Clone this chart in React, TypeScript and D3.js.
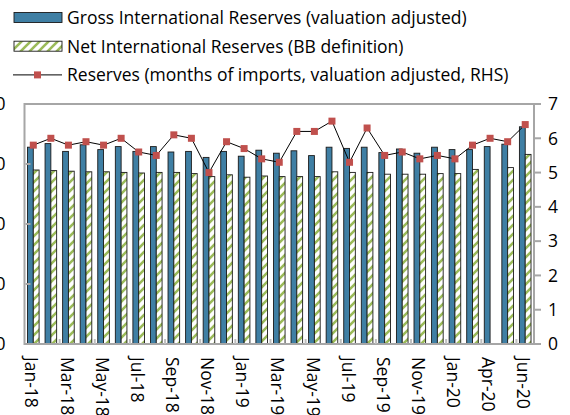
import { useEffect, useRef } from 'react'
import * as d3 from 'd3'

const months = [
  'Jan-18', 'Feb-18', 'Mar-18', 'Apr-18', 'May-18', 'Jun-18', 'Jul-18', 'Aug-18', 'Sep-18', 'Oct-18',
  'Nov-18', 'Dec-18', 'Jan-19', 'Feb-19', 'Mar-19', 'Apr-19', 'May-19', 'Jun-19', 'Jul-19', 'Aug-19',
  'Sep-19', 'Oct-19', 'Nov-19', 'Dec-19', 'Jan-20', 'Feb-20', 'Apr-20', 'May-20', 'Jun-20',
]
const gross = [
  32.8, 33.4, 32.1, 33.2, 32.4, 32.9, 32.1, 32.9, 32.0, 32.1,
  31.1, 32.1, 31.3, 32.3, 31.8, 32.2, 31.4, 32.8, 32.6, 32.8,
  31.9, 32.5, 31.8, 32.8, 32.4, 32.4, 32.9, 33.3, 36.2,
]
const net: (number | null)[] = [
  29.0, 28.9, 28.8, 28.7, 28.7, 28.6, 28.5, 28.6, 28.6, 28.4,
  27.9, 28.2, 27.8, 28.0, 27.9, 27.9, 27.9, 28.7, 28.6, 28.6,
  28.3, 28.3, 28.3, 28.4, 28.4, 29.1, null, 29.4, 31.6,
]
const importMonths = [
  5.8, 6.0, 5.8, 5.9, 5.8, 6.0, 5.6, 5.5, 6.1, 6.0,
  5.0, 5.9, 5.7, 5.4, 5.3, 6.2, 6.2, 6.5, 5.3, 6.3,
  5.5, 5.6, 5.4, 5.5, 5.4, 5.8, 6.0, 5.9, 6.4,
]
const leftTicks = [0, 10, 20, 30, 40]
const rightTicks = [0, 1, 2, 3, 4, 5, 6, 7]
const legendItems = [
  'Gross International Reserves (valuation adjusted)',
  'Net International Reserves (BB definition)',
  'Reserves (months of imports, valuation adjusted, RHS)',
]

const BLUE = '#3f7fa4'
const GREEN = '#9bbb59'
const RED = '#c0504d'
const FRAME = '#a6a6a6'
const FONT = '"Open Sans", sans-serif'

export default function App() {
  const svgRef = useRef<SVGSVGElement>(null)

  useEffect(() => {
    if (!svgRef.current) return
    const width = 570
    const height = 415
    const m = { top: 104, right: 36, bottom: 71, left: 24.5 }
    const x0 = m.left, x1 = width - m.right, y0 = height - m.bottom, y1 = m.top

    const svg = d3.select(svgRef.current)
    svg.selectAll('*').remove()
    svg.attr('width', width).attr('height', height)

    const defs = svg.append('defs')
    const pat = defs.append('pattern').attr('id', 'nir-hatch').attr('patternUnits', 'userSpaceOnUse')
      .attr('width', 9).attr('height', 9)
    pat.append('rect').attr('width', 9).attr('height', 9).attr('fill', '#fff')
    pat.append('path').attr('d', 'M-2,11 L11,-2 M-4,4 L4,-4 M5,13 L13,5')
      .attr('stroke', GREEN).attr('stroke-width', 2.6)

    const x = d3.scaleBand<string>().domain(months).range([x0, x1]).paddingInner(0.34).paddingOuter(0.17)
    const xs = d3.scaleBand<string>().domain(['gross', 'net']).range([0, x.bandwidth()])
    const yL = d3.scaleLinear().domain([0, 40]).range([y0, y1])
    const yR = d3.scaleLinear().domain([0, 7]).range([y0, y1])
    const step = x.step()

    // bars
    svg.append('g').selectAll('rect').data(months).enter().append('rect')
      .attr('x', d => x(d)! + xs('gross')!).attr('width', xs.bandwidth())
      .attr('y', (_, i) => yL(gross[i])).attr('height', (_, i) => y0 - yL(gross[i]))
      .attr('fill', BLUE).attr('stroke', '#1a1a1a').attr('stroke-width', 0.9)

    svg.append('g').selectAll('rect').data(months.filter((_, i) => net[i] != null)).enter().append('rect')
      .attr('x', d => x(d)! + xs('net')!).attr('width', xs.bandwidth())
      .attr('y', d => yL(net[months.indexOf(d)]!)).attr('height', d => y0 - yL(net[months.indexOf(d)]!))
      .attr('fill', 'url(#nir-hatch)').attr('stroke', '#1a1a1a').attr('stroke-width', 0.9)

    // frame
    svg.append('rect').attr('x', x0).attr('y', y1).attr('width', x1 - x0).attr('height', y0 - y1)
      .attr('fill', 'none').attr('stroke', FRAME).attr('stroke-width', 2)

    // category tick marks (inside, every 2 categories)
    const tickIdx = d3.range(2, months.length, 2)
    svg.append('g').selectAll('line').data(tickIdx).enter().append('line')
      .attr('x1', i => x0 + i * step).attr('x2', i => x0 + i * step)
      .attr('y1', y0).attr('y2', y0 - 5).attr('stroke', '#bfbfbf').attr('stroke-width', 2)

    // left axis (ticks inside, labels clipped by the page edge as in the source)
    svg.append('g').selectAll('line').data(leftTicks.slice(1, -1)).enter().append('line')
      .attr('x1', x0 + 1).attr('x2', x0 + 6).attr('y1', d => yL(d)).attr('y2', d => yL(d))
      .attr('stroke', FRAME).attr('stroke-width', 2)
    svg.append('g').selectAll('text').data(leftTicks).enter().append('text')
      .attr('x', 5.5).attr('y', d => yL(d)).attr('dy', '0.36em').attr('text-anchor', 'end')
      .attr('font-family', FONT).attr('font-size', 17.5).attr('fill', '#000').text(d => d)

    // right axis
    svg.append('g').selectAll('line').data(rightTicks).enter().append('line')
      .attr('x1', x1).attr('x2', x1 + 7).attr('y1', d => yR(d)).attr('y2', d => yR(d))
      .attr('stroke', FRAME).attr('stroke-width', 2)
    svg.append('g').selectAll('text').data(rightTicks).enter().append('text')
      .attr('x', x1 + 14).attr('y', d => yR(d)).attr('dy', '0.36em')
      .attr('font-family', FONT).attr('font-size', 17.5).attr('fill', '#000').text(d => d)

    // x labels
    svg.append('g').selectAll('text').data(months.filter((_, i) => i % 2 === 0)).enter().append('text')
      .attr('transform', d => `translate(${x(d)! + x.bandwidth() / 2 - 1.5},${y0 + 13}) rotate(90)`)
      .attr('dy', '0.36em').attr('font-family', FONT).attr('font-size', 17.5).attr('fill', '#000').text(d => d)

    // line
    const cx = (i: number) => x(months[i])! + x.bandwidth() / 2
    svg.append('path').datum(importMonths)
      .attr('fill', 'none').attr('stroke', '#000').attr('stroke-width', 1)
      .attr('d', d3.line<number>().x((_, i) => cx(i)).y(d => yR(d)))
    svg.append('g').selectAll('rect').data(importMonths).enter().append('rect')
      .attr('x', (_, i) => cx(i) - 3.5).attr('y', d => yR(d) - 3.5).attr('width', 7).attr('height', 7)
      .attr('fill', RED)

    // legend
    const lg = svg.append('g')
    legendItems.forEach((label, i) => {
      const ly = 17.5 + i * 28.7
      if (i === 0) {
        lg.append('rect').attr('x', 14).attr('y', ly - 5).attr('width', 48).attr('height', 10)
          .attr('fill', BLUE).attr('stroke', '#1a1a1a').attr('stroke-width', 0.9)
      } else if (i === 1) {
        lg.append('rect').attr('x', 14).attr('y', ly - 5).attr('width', 48).attr('height', 10)
          .attr('fill', 'url(#nir-hatch)').attr('stroke', '#1a1a1a').attr('stroke-width', 0.9)
      } else {
        lg.append('line').attr('x1', 13).attr('x2', 62).attr('y1', ly).attr('y2', ly)
          .attr('stroke', '#000').attr('stroke-width', 1)
        lg.append('rect').attr('x', 37.5 - 3.5).attr('y', ly - 3.5).attr('width', 7).attr('height', 7).attr('fill', RED)
      }
      lg.append('text').attr('x', 67).attr('y', ly).attr('dy', '0.36em')
        .attr('font-family', FONT).attr('font-size', 17.5).attr('fill', '#000').text(label)
    })
  }, [])

  return <svg ref={svgRef} style={{ position: 'absolute', left: 0, top: 0 }} />
}
